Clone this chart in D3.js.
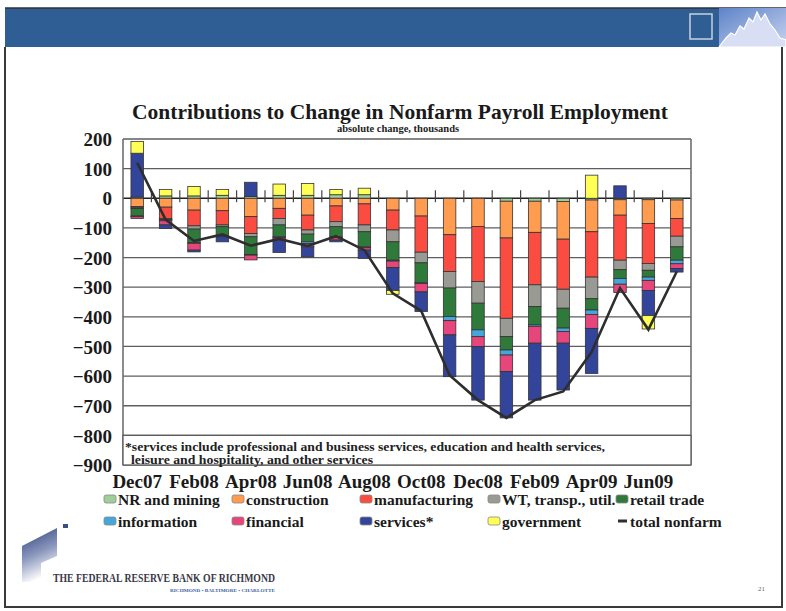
<!DOCTYPE html>
<html>
<head>
<meta charset="utf-8">
<script src="https://cdn.jsdelivr.net/npm/d3@7"></script>
<style>
  body { margin: 0; background: #fff; }
  svg { display: block; }
  text { font-family: "Liberation Serif", "Times New Roman", serif; }
</style>
</head>
<body>
<svg id="chart" width="786" height="611"></svg>
<script>
// Monthly change in payroll employment by sector, thousands
const months = ["Dec07","Jan08","Feb08","Mar08","Apr08","May08","Jun08","Jul08","Aug08","Sep08",
                "Oct08","Nov08","Dec08","Jan09","Feb09","Mar09","Apr09","May09","Jun09","Jul09"];
const tickLabels = ["Dec07","Feb08","Apr08","Jun08","Aug08","Oct08","Dec08","Feb09","Apr09","Jun09"];
const yTicks = [200,100,0,-100,-200,-300,-400,-500,-600,-700,-800,-900];

const nrMining      = [4, 8, 8, 10, 6, 10, 10, 12, 12, 0, 0, 0, 0, -10, -10, -11, -6, -5, -5, -6];
const construction  = [-28,-30,-40,-42,-62,-34,-57,-26,-19,-40,-60,-123,-95,-124,-105,-127,-107,-52,-80,-62];
const manufacturing = [-4,-38,-53,-48,-57,-34,-50,-53,-71,-67,-122,-124,-186,-271,-177,-169,-153,-152,-135,-60];
const wtTransUtil   = [-3,-4,-11,-6,-11,-22,-14,-17,-23,-40,-36,-56,-73,-62,-73,-64,-73,-32,-23,-36];
const retailTrade   = [-25,-4,-45,-34,-60,-40,-26,-34,-51,-62,-66,-96,-90,-45,-62,-67,-38,-30,-23,-45];
const information   = [-2,0,-3,0,-2,-3,-6,-3,-3,-3,-4,-14,-23,-17,-5,-12,-15,-19,-11,-12];
const financial     = [-6,-14,-23,0,-16,-5,-11,-8,-8,-22,-28,-48,-34,-56,-57,-39,-47,-28,-34,-16];
const services      = [148,-12,-6,-17,48,-45,-34,-6,-28,-77,-66,-141,-180,-156,-192,-158,-152,42,-85,-12];
const government    = [40,22,32,20,0,38,40,18,22,-13,0,0,0,0,0,0,78,0,-45,0];
const totalNonfarm  = [120,-72,-144,-122,-160,-137,-161,-128,-175,-321,-380,-597,-681,-741,-681,-652,-519,-303,-443,-247];

const seriesKeys   = ["nr","con","man","wtu","ret","inf","fin","svc","gov"];
const seriesNames  = ["NR and mining","construction","manufacturing","WT, transp., util.","retail trade",
                      "information","financial","services*","government"];
const seriesValues = [nrMining, construction, manufacturing, wtTransUtil, retailTrade,
                      information, financial, services, government];
const seriesColors = ["#9fcf98","#ff9c50","#fb4c42","#9a9a94","#2f7a3a",
                      "#45a6dc","#e6467c","#33459b","#ffff55"];

const svg = d3.select("#chart");

// ---- slide frame and header band ----
const defs = svg.append("defs");
const sky = defs.append("linearGradient").attr("id","sky").attr("x1",0).attr("x2",1).attr("y1",0).attr("y2",1);
sky.append("stop").attr("offset","0%").attr("stop-color","#5d84c8");
sky.append("stop").attr("offset","100%").attr("stop-color","#c9d3f0");
const logoGrad = defs.append("linearGradient").attr("id","logoGrad").attr("x1",0).attr("x2",0.3).attr("y1",0).attr("y2",1);
logoGrad.append("stop").attr("offset","0%").attr("stop-color","#2c3d78");
logoGrad.append("stop").attr("offset","55%").attr("stop-color","#8b97bd");
logoGrad.append("stop").attr("offset","100%").attr("stop-color","#ffffff");

svg.append("rect").attr("x",0).attr("y",0).attr("width",786).attr("height",611).attr("fill","#fff");
svg.append("rect").attr("x",5).attr("y",8).attr("width",716).attr("height",39).attr("fill","#2f5e94");
svg.append("line").attr("x1",5).attr("x2",786).attr("y1",8).attr("y2",8).attr("stroke","#333").attr("stroke-width",1.5);
svg.append("rect").attr("x",719).attr("y",8).attr("width",67).attr("height",39).attr("fill","url(#sky)");
svg.append("path")
  .attr("d","M719,47 L726,38 L731,33 L735,35 L740,26 L744,29 L749,18 L753,22 L757,12 L761,20 L765,14 L770,24 L775,30 L780,38 L786,40 L786,47 Z")
  .attr("fill","#d8def4").attr("stroke","#fff").attr("stroke-width",1.2);
svg.append("rect").attr("x",690).attr("y",14).attr("width",22).attr("height",25)
  .attr("fill","none").attr("stroke","#c9d1de").attr("stroke-width",1.5);
svg.append("path").attr("d","M5,47 L5,607 L782,607 L782,47")
  .attr("fill","none").attr("stroke","#3a3a3a").attr("stroke-width",2);

// ---- plot area ----
const plot = {left: 123, right: 691, top: 139, bottom: 465};

const x = d3.scaleBand().domain(months).range([plot.left, plot.right]).padding(0);
const step = x.bandwidth();
const barW = step * 0.44;
const y = d3.scaleLinear().domain([-900, 200]).range([plot.bottom, plot.top]);

// grid lines
svg.append("g").selectAll("line").data(yTicks).join("line")
  .attr("x1", plot.left).attr("x2", plot.right)
  .attr("y1", d => y(d)).attr("y2", d => y(d))
  .attr("stroke", d => d === 0 ? "#222" : "#5e5e5e")
  .attr("stroke-width", d => d === 0 ? 1.6 : 1.3);

// left and right borders of the plot
svg.append("line").attr("x1",plot.left).attr("x2",plot.left).attr("y1",plot.top).attr("y2",plot.bottom)
  .attr("stroke","#666").attr("stroke-width",1.5);
svg.append("line").attr("x1",plot.right).attr("x2",plot.right).attr("y1",plot.top).attr("y2",plot.bottom)
  .attr("stroke","#666").attr("stroke-width",1.5);

// category tick marks on the zero line
svg.append("g").selectAll("line").data(months.slice(1)).join("line")
  .attr("x1", d => x(d)).attr("x2", d => x(d))
  .attr("y1", y(0) - 8).attr("y2", y(0) + 4)
  .attr("stroke","#444").attr("stroke-width",1.2);

// stacked bars
const rows = months.map((m, i) => {
  const r = {month: m};
  seriesKeys.forEach((k, j) => r[k] = seriesValues[j][i]);
  return r;
});
const stacked = d3.stack().keys(seriesKeys).offset(d3.stackOffsetDiverging)(rows);

svg.append("g").selectAll("g").data(stacked).join("g")
  .attr("fill", (d, i) => seriesColors[i])
  .selectAll("rect").data(d => d.filter(p => p[1] !== p[0])).join("rect")
  .attr("x", p => x(p.data.month) + (step - barW) / 2)
  .attr("width", barW)
  .attr("y", p => y(Math.max(p[0], p[1])))
  .attr("height", p => Math.abs(y(p[0]) - y(p[1])))
  .attr("stroke", "#333").attr("stroke-width", 0.8);

// total nonfarm line
const line = d3.line().x((d, i) => x(months[i]) + step / 2).y(d => y(d));
svg.append("path").datum(totalNonfarm)
  .attr("d", line).attr("fill","none")
  .attr("stroke","#2e2e2e").attr("stroke-width",2.6).attr("stroke-linejoin","miter");

// footnote box in the bottom band of the plot
svg.append("rect").attr("x",plot.left).attr("y",y(-800)).attr("width",plot.right-plot.left)
  .attr("height",y(-900)-y(-800)).attr("fill","#fff").attr("stroke","#5e5e5e").attr("stroke-width",1.3);
svg.append("text").attr("x",125).attr("y",450.5).attr("font-weight","bold").attr("font-size",12)
  .attr("fill","#222").attr("textLength",480).attr("lengthAdjust","spacingAndGlyphs")
  .text("*services include professional and business services, education and health services,");
svg.append("text").attr("x",131).attr("y",463.5).attr("font-weight","bold").attr("font-size",12)
  .attr("fill","#222").attr("textLength",242).attr("lengthAdjust","spacingAndGlyphs")
  .text("leisure and hospitality, and other services");

// y axis labels
const yAxis = svg.append("g").attr("transform",`translate(${plot.left},0)`)
  .call(d3.axisLeft(y).tickValues(yTicks).tickSize(0).tickPadding(11).tickFormat(d3.format("d")));
yAxis.select(".domain").remove();
yAxis.selectAll("text").attr("font-family","Liberation Serif, serif").attr("font-weight","bold")
  .attr("font-size",19).attr("fill","#1a1a1a").attr("dy","0.35em");

// x axis labels
const xAxis = svg.append("g").attr("transform",`translate(0,${plot.bottom})`)
  .call(d3.axisBottom(x).tickValues(tickLabels).tickSize(0).tickPadding(10));
xAxis.select(".domain").remove();
xAxis.selectAll("text").attr("font-family","Liberation Serif, serif").attr("font-weight","bold")
  .attr("font-size",19).attr("fill","#1a1a1a");

// title
svg.append("text").attr("x",400).attr("y",119).attr("text-anchor","middle")
  .attr("font-weight","bold").attr("font-size",21.5).attr("fill","#1a1a1a")
  .text("Contributions to Change in Nonfarm Payroll Employment");
svg.append("text").attr("x",398).attr("y",132).attr("text-anchor","middle")
  .attr("font-weight","bold").attr("font-size",10.5).attr("fill","#222")
  .text("absolute change, thousands");

// legend
const legCols = [104, 232, 360, 488, 616];
const legRows = [500, 522];
defs.append("clipPath").attr("id","legClip").append("rect").attr("x",0).attr("y",480).attr("width",723).attr("height",60);
const legend = svg.append("g").attr("clip-path","url(#legClip)");
const legItems = seriesNames.map((n, i) => ({name: n, color: seriesColors[i], kind: "box"}))
  .concat([{name: "total nonfarm", color: "#2e2e2e", kind: "line"}]);
legItems.forEach((it, i) => {
  const gx = legCols[i % 5], gy = legRows[Math.floor(i / 5)];
  if (it.kind === "box") {
    legend.append("rect").attr("x",gx).attr("y",gy-5).attr("width",12).attr("height",8).attr("rx",2)
      .attr("fill",it.color).attr("stroke","#888").attr("stroke-width",0.8);
  } else {
    legend.append("rect").attr("x",gx+2).attr("y",gy-2.5).attr("width",9).attr("height",3).attr("fill",it.color);
  }
  legend.append("text").attr("x",gx+14).attr("y",gy+5).attr("font-weight","bold")
    .attr("font-size",15.5).attr("fill","#1a1a1a").text(it.name);
});

// bank mark and name
svg.append("path").attr("d","M22,546 L57,528 L57,556 L41,563 L41,582 L22,582 Z").attr("fill","url(#logoGrad)");
svg.append("rect").attr("x",63).attr("y",524).attr("width",5).attr("height",4).attr("fill","#3a4d86");
svg.append("text").attr("x",53).attr("y",582).attr("textLength",222).attr("lengthAdjust","spacingAndGlyphs")
  .attr("font-family","Liberation Sans Narrow, Liberation Sans, sans-serif").attr("font-weight","bold")
  .attr("font-size",13).attr("fill","#3a3a48").text("THE FEDERAL RESERVE BANK OF RICHMOND");
svg.append("text").attr("x",170).attr("y",592).attr("textLength",105).attr("lengthAdjust","spacingAndGlyphs")
  .attr("font-family","Liberation Sans, sans-serif").attr("font-weight","bold")
  .attr("font-size",5).attr("fill","#4060a8").text("RICHMOND \u2022 BALTIMORE \u2022 CHARLOTTE");
svg.append("text").attr("x",758).attr("y",591).attr("font-size",7).attr("fill","#666").text("21");
</script>
</body>
</html>
